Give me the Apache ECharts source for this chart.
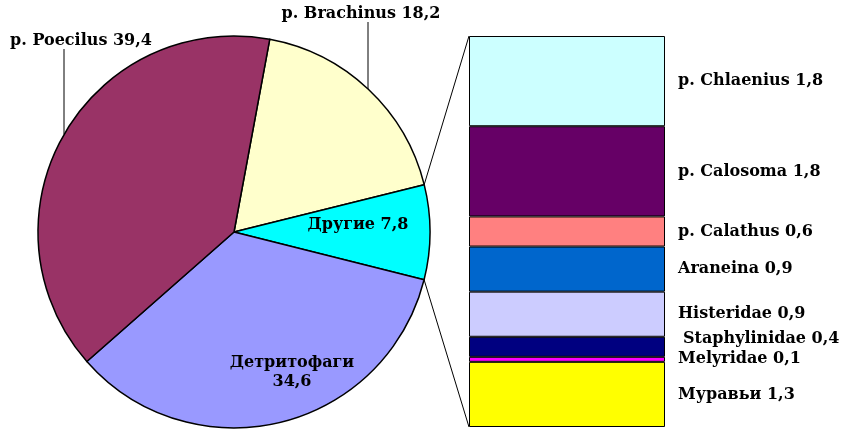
<!DOCTYPE html>
<html>
<head>
<meta charset="utf-8">
<script src="https://cdn.jsdelivr.net/npm/echarts@6/dist/echarts.min.js"></script>
<style>
  html, body { margin: 0; padding: 0; background: #fff; }
  #chart { width: 841px; height: 429px; }
</style>
</head>
<body>
<div id="chart"></div>
<script>
// pie slices (clockwise from the top boundary)
const pieNames = ['p. Brachinus', 'Другие', 'Детритофаги', 'p. Poecilus'];
const pieValues = [18.2, 7.8, 34.6, 39.4];
const pieColors = ['#FFFFCC', '#00FFFF', '#9999FF', '#993366'];

// breakdown of "Другие", top to bottom
const barNames = ['p. Chlaenius', 'p. Calosoma', 'p. Calathus', 'Araneina', 'Histeridae', 'Staphylinidae', 'Melyridae', 'Муравьи'];
const barValues = [1.8, 1.8, 0.6, 0.9, 0.9, 0.4, 0.1, 1.3];
const barColors = ['#CCFFFF', '#660066', '#FF8080', '#0066CC', '#CCCCFF', '#000080', '#FF00FF', '#FFFF00'];

const font = { fontFamily: 'DejaVu Serif', fontWeight: 'bold', fontSize: 16, color: '#000' };
const fmt = v => String(v).replace('.', ',');

const cx = 234, cy = 232, R = 196;
const startAngle = 79.5;
const bar = { left: 469, top: 36, width: 196, height: 391 };

// label anchors for the pie
const pieLabelPos = [
  { x: 361, y: 14, lineX: 368 },
  { x: 358, y: 225 },
  { x: 292, y: 372 },
  { x: 81, y: 41, lineX: 64 }
];

const total = pieValues.reduce((a, b) => a + b, 0);
const otherIdx = 1;
let before = 0;
for (let i = 0; i < otherIdx; i++) before += pieValues[i];
const a1 = (startAngle - before / total * 360) * Math.PI / 180;
const a2 = (startAngle - (before + pieValues[otherIdx]) / total * 360) * Math.PI / 180;
const p1 = [cx + R * Math.cos(a1), cy - R * Math.sin(a1)];
const p2 = [cx + R * Math.cos(a2), cy - R * Math.sin(a2)];
const barTotal = barValues.reduce((a, b) => a + b, 0);

const chart = echarts.init(document.getElementById('chart'));

const option = {
  animation: false,
  backgroundColor: '#fff',
  grid: { left: bar.left, top: bar.top, width: bar.width, height: bar.height },
  xAxis: { type: 'category', data: ['x'], show: false },
  yAxis: { type: 'value', inverse: true, min: 0, max: barTotal, show: false },
  graphic: [
    { type: 'line', shape: { x1: p1[0], y1: p1[1], x2: bar.left, y2: bar.top }, style: { stroke: '#000', lineWidth: 1 } },
    { type: 'line', shape: { x1: p2[0], y1: p2[1], x2: bar.left, y2: bar.top + bar.height }, style: { stroke: '#000', lineWidth: 1 } }
  ],
  series: [
    {
      type: 'pie',
      center: [cx, cy],
      radius: R,
      startAngle: startAngle,
      clockwise: true,
      avoidLabelOverlap: false,
      data: pieNames.map((n, i) => ({
        name: n,
        value: pieValues[i],
        itemStyle: { color: pieColors[i] },
        label: { position: pieLabelPos[i].lineX ? 'outside' : 'inside' },
        labelLine: { show: !!pieLabelPos[i].lineX }
      })),
      itemStyle: { borderColor: '#000', borderWidth: 1.5 },
      label: {
        ...font,
        overflow: 'none',
        width: 200,
        formatter: p => p.dataIndex === 2 ? p.name + '\n' + fmt(p.value) : p.name + ' ' + fmt(p.value),
        lineHeight: 19
      },
      labelLine: { length: 5, length2: 5, lineStyle: { color: '#000', width: 1 } },
      labelLayout: params => {
        const pos = pieLabelPos[params.dataIndex];
        const out = { x: pos.x, y: pos.y, align: 'center', verticalAlign: 'middle' };
        if (pos.lineX) {
          const dx = pos.lineX - cx;
          const edgeY = cy - Math.sqrt(R * R - dx * dx);
          out.labelLinePoints = [[pos.lineX, pos.y + 8], [pos.lineX, pos.y + 8], [pos.lineX, edgeY]];
        }
        return out;
      }
    },
    ...barNames.map((n, i) => ({
      type: 'bar',
      name: n,
      stack: 'other',
      barWidth: '100%',
      data: [barValues[i]],
      itemStyle: { color: barColors[i], borderColor: '#000', borderWidth: 1 },
      label: {
        show: true,
        position: 'right',
        distance: 13,
        ...font,
        offset: n === 'Staphylinidae' ? [5, -8] : [0, 0],
        formatter: p => p.seriesName + ' ' + fmt(p.value)
      }
    }))
  ]
};

chart.setOption(option);
</script>
</body>
</html>
